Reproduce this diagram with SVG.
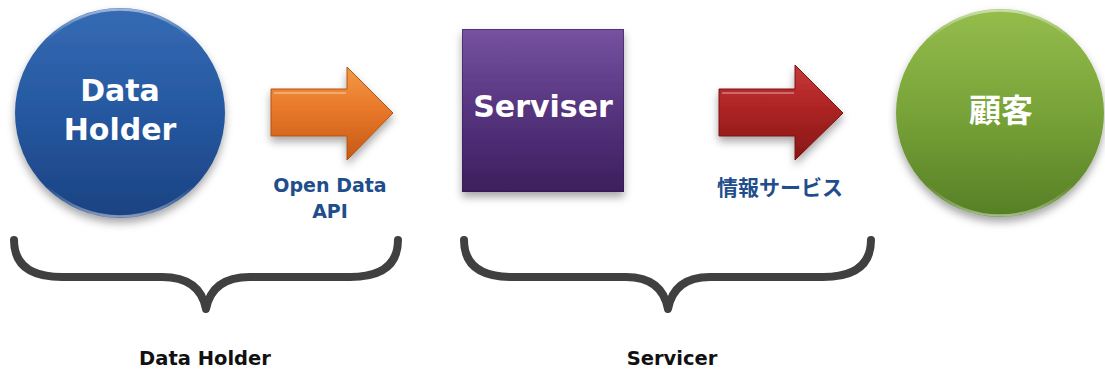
<svg xmlns="http://www.w3.org/2000/svg" width="1105" height="374" viewBox="0 0 1105 374">
  <defs>
    <linearGradient id="gBlue" x1="0" y1="0" x2="0" y2="1">
      <stop offset="0" stop-color="#356bb3"/>
      <stop offset="0.5" stop-color="#2558a0"/>
      <stop offset="1" stop-color="#1c4282"/>
    </linearGradient>
    <linearGradient id="gGreen" x1="0" y1="0" x2="0" y2="1">
      <stop offset="0" stop-color="#94bd4c"/>
      <stop offset="0.5" stop-color="#78a338"/>
      <stop offset="1" stop-color="#567f26"/>
    </linearGradient>
    <linearGradient id="gPurple" x1="0" y1="0" x2="0" y2="1">
      <stop offset="0" stop-color="#7652a0"/>
      <stop offset="0.5" stop-color="#56347f"/>
      <stop offset="1" stop-color="#3c1f5e"/>
    </linearGradient>
    <linearGradient id="gOrange" x1="0" y1="0" x2="0" y2="1">
      <stop offset="0" stop-color="#f39a45"/>
      <stop offset="0.45" stop-color="#e8782a"/>
      <stop offset="1" stop-color="#c45a14"/>
    </linearGradient>
    <linearGradient id="gRed" x1="0" y1="0" x2="0" y2="1">
      <stop offset="0" stop-color="#c83838"/>
      <stop offset="0.45" stop-color="#ad2424"/>
      <stop offset="1" stop-color="#861616"/>
    </linearGradient>
    <linearGradient id="gRim" x1="0" y1="0" x2="0" y2="1">
      <stop offset="0" stop-color="#ffffff" stop-opacity="0.5"/>
      <stop offset="0.15" stop-color="#ffffff" stop-opacity="0"/>
      <stop offset="0.85" stop-color="#ffffff" stop-opacity="0"/>
      <stop offset="1" stop-color="#ffffff" stop-opacity="0.45"/>
    </linearGradient>
    <filter id="shadow" x="-20%" y="-20%" width="140%" height="150%">
      <feDropShadow dx="0" dy="5" stdDeviation="4" flood-color="#000" flood-opacity="0.35"/>
    </filter>
    <style>
      .title { font-family: "DejaVu Sans", "Noto Sans CJK JP", sans-serif; font-weight: bold; fill: #ffffff; text-anchor: middle; }
      .blue { font-family: "DejaVu Sans", "Noto Sans CJK JP", sans-serif; font-weight: bold; fill: #1f4e8c; text-anchor: middle; }
      .cap { font-family: "DejaVu Sans", sans-serif; font-weight: bold; fill: #111111; text-anchor: middle; font-size: 19.5px; }
      .brace { fill: none; stroke: #404040; stroke-width: 8; stroke-linecap: round; stroke-linejoin: round; }
      .rim { fill: none; stroke: url(#gRim); stroke-width: 2.5; }
    </style>
  </defs>

  <rect width="1105" height="374" fill="#ffffff"/>

  <g id="data-holder">
    <circle cx="120" cy="113" r="105" fill="url(#gBlue)" filter="url(#shadow)"/>
    <circle cx="120" cy="113" r="103.5" class="rim"/>
    <text class="title" x="120" y="101" font-size="30">Data</text>
    <text class="title" x="120" y="140" font-size="30">Holder</text>
  </g>

  <g id="serviser">
    <rect x="462" y="29" width="162" height="163" fill="url(#gPurple)" filter="url(#shadow)"/>
    <rect x="462.5" y="29.5" width="161" height="162" fill="none" stroke="#2e1848" stroke-opacity="0.5"/>
    <text class="title" x="543" y="117" font-size="30">Serviser</text>
  </g>

  <g id="customer">
    <circle cx="1000" cy="113" r="104" fill="url(#gGreen)" filter="url(#shadow)"/>
    <circle cx="1000" cy="113" r="102.5" class="rim"/>
    <text class="title" x="1001" y="122" font-size="32">顧客</text>
  </g>

  <g id="connectors">
    <g id="open-data-api">
      <polygon points="271,89 347,89 347,67 393,113 347,160 347,136 271,136" fill="url(#gOrange)" stroke="#b2530f" stroke-width="1" filter="url(#shadow)"/>
      <line x1="274" y1="93" x2="346" y2="93" stroke="#ffffff" stroke-opacity="0.3" stroke-width="2"/>
      <text class="blue" x="330" y="192" font-size="19">Open Data</text>
      <text class="blue" x="330" y="218" font-size="19">API</text>
    </g>
    <g id="info-service">
      <polygon points="719,89 795,89 795,65 843,113 795,160 795,136 719,136" fill="url(#gRed)" stroke="#7a1212" stroke-width="1" filter="url(#shadow)"/>
      <line x1="722" y1="93" x2="794" y2="93" stroke="#ffffff" stroke-opacity="0.3" stroke-width="2"/>
      <text class="blue" x="780" y="195" font-size="21">情報サービス</text>
    </g>
  </g>

  <g id="data-holder-brace">
    <path class="brace" d="M14,240 Q14,277 62,277 L162,277 Q200,277 206,309 Q212,277 250,277 L350,277 Q398,277 398,240"/>
    <text class="cap" x="205" y="365">Data Holder</text>
  </g>

  <g id="servicer-brace">
    <path class="brace" d="M464,240 Q464,277 512,277 L626,277 Q662,277 668,309 Q674,277 710,277 L823,277 Q871,277 871,240"/>
    <text class="cap" x="672" y="365">Servicer</text>
  </g>
</svg>
